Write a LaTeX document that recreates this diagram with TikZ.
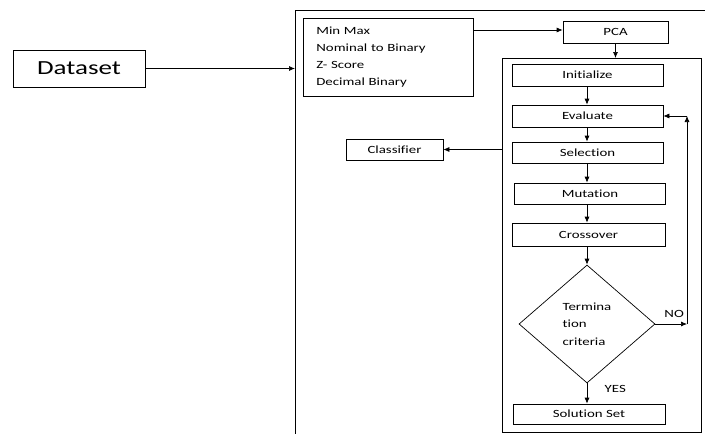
\documentclass[tikz,border=0pt]{standalone}
\usepackage{fontspec}
\setmainfont{Carlito}[FakeStretch=1.35, Ligatures=NoCommon]
\usetikzlibrary{arrows.meta, positioning, shapes.geometric, calc}

\begin{document}
\begin{tikzpicture}[x=1pt, y=-1pt,
    stp/.style={draw, line width=0.7pt, minimum width=151pt, minimum height=22pt, inner sep=0pt, font=\fontsize{11}{12}\selectfont},
    frm/.style={draw, line width=0.8pt, inner sep=0pt},
    dec/.style={draw, diamond, line width=0.7pt, minimum width=136pt, minimum height=118pt, inner sep=0pt, align=left, font=\fontsize{11}{17.5}\selectfont},
    lbl/.style={font=\fontsize{11}{12}\selectfont},
    >={Latex[length=6pt,width=5pt]}, line width=0.7pt]
  \useasboundingbox (0,0) rectangle (705,434);
  % outer and inner frames
  \node[frm, minimum width=440pt, minimum height=450pt, anchor=north west] (frame) at (295,10) {};
  \node[frm, minimum width=199pt, minimum height=374pt, anchor=north west] (ga) at (502,58) {};
  % left side
  \node[stp, minimum width=132pt, minimum height=37pt, font=\fontsize{20}{22}\selectfont] (data) at (79,68.5) {Dataset};
  \node[stp, anchor=north west, minimum width=170pt, minimum height=78pt, inner xsep=13pt, text width=144pt, align=left, font=\fontsize{11}{17}\selectfont] (norm) at (303,18)
    {Min Max\\Nominal to Binary\\Z- Score\\Decimal Binary};
  \node[stp, minimum width=105pt] (pca) at (615.5,32) {PCA};
  \node[stp, minimum width=97pt, minimum height=21pt] (cls) at (394.5,149.5) {Classifier};
  % GA steps
  \node[stp] (init) at (587.5,75) {Initialize};
  \node[stp] (eval) at (587.5,116) {Evaluate};
  \node[stp, minimum height=21pt] (sel) at (587.5,152.5) {Selection};
  \node[stp, minimum height=21pt] (mut) at (590,193.5) {Mutation};
  \node[stp, minimum width=153pt, minimum height=23pt] (cross) at (588.5,234.5) {Crossover};
  \node[dec] (term) at (587,324) {Termina\\tion\\criteria};
  \node[stp, minimum width=152pt, minimum height=20pt] (sol) at (589,414) {Solution Set};
  \coordinate (loop) at (687,324);
  \coordinate (back) at (eval.east -| loop);
  % connectors
  \draw[->] (data.east) -- (data.east -| frame.west);
  \draw[->] (norm.east |- 0,30) -- (pca.west |- 0,30);
  \draw[->] (pca) -- (pca |- ga.north);
  \draw[->] (init.south -| 587,0) -- (eval.north -| 587,0);
  \draw[->] (eval.south -| 587,0) -- (sel.north -| 587,0);
  \draw[->] (sel.south -| 587,0) -- (mut.north -| 587,0);
  \draw[->] (mut.south -| 587,0) -- (cross.north -| 587,0);
  \draw[->] (cross.south -| 587,0) -- (term.north);
  \draw[->] (term.south) -- node[lbl, right, pos=0.3, xshift=14pt]{YES} (sol.north -| term.south);
  \draw[->] (term.east) -- node[lbl, above, xshift=3pt, yshift=3pt]{NO} (loop);
  \draw[->] (loop) -- (back);
  \draw[->] (back) -- (eval.east);
  \draw[->] (ga.west |- cls) -- (cls.east);
\end{tikzpicture}
\end{document}
